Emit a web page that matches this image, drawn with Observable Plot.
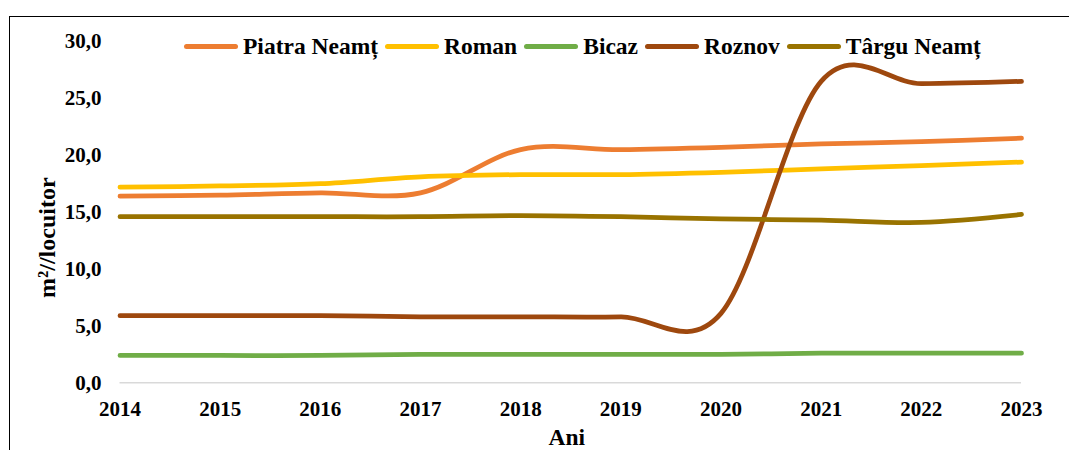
<!DOCTYPE html>
<html>
<head>
<meta charset="utf-8">
<script src="https://cdn.jsdelivr.net/npm/d3@7"></script>
<script src="https://cdn.jsdelivr.net/npm/@observablehq/plot@0.6"></script>
<style>
  html, body { margin: 0; padding: 0; background: #fff; }
  #wrap { position: relative; width: 1069px; height: 450px; overflow: hidden; font-family: "Liberation Serif", "Times New Roman", serif; }
  #border { position: absolute; left: 9px; top: 16px; right: -5px; bottom: -5px; border-left: 1px solid #000; border-top: 1.5px solid #000; }
  #chart { position: absolute; left: 0; top: 0; }
  #legend { position: absolute; left: 184px; top: 33px; display: flex; align-items: center; font-weight: bold; font-size: 23.5px; line-height: 26px; color: #000; white-space: nowrap; }
  .sw { width: 54px; height: 5px; border-radius: 3px; margin-right: 5px; }
  .lb { margin-right: 7px; }
</style>
</head>
<body>
<div id="wrap">
  <div id="border"></div>
  <div id="chart"></div>
  <div id="legend"></div>
</div>
<script>
const years = [2014, 2015, 2016, 2017, 2018, 2019, 2020, 2021, 2022, 2023];
const cities = ["Piatra Neamț", "Roman", "Bicaz", "Roznov", "Târgu Neamț"];
const colors = ["#ED7D31", "#FFC000", "#70AD47", "#9E480E", "#997300"];
const piatraNeamt = [16.4, 16.5, 16.7, 16.7, 20.5, 20.5, 20.7, 21.0, 21.2, 21.5];
const roman       = [17.2, 17.3, 17.5, 18.1, 18.3, 18.3, 18.5, 18.8, 19.1, 19.4];
const bicaz       = [2.4, 2.4, 2.4, 2.5, 2.5, 2.5, 2.5, 2.6, 2.6, 2.6];
const roznov      = [5.9, 5.9, 5.9, 5.8, 5.8, 5.8, 6.1, 26.5, 26.3, 26.5];
const targuNeamt  = [14.6, 14.6, 14.6, 14.6, 14.7, 14.6, 14.4, 14.3, 14.1, 14.8];
const yTicks = [0, 5, 10, 15, 20, 25, 30];
const xTitle = "Ani";
const yTitle = "m²//locuitor";

const seriesValues = [piatraNeamt, roman, bicaz, roznov, targuNeamt];
const rows = [];
cities.forEach((c, i) => years.forEach((y, j) => rows.push({city: c, year: y, value: seriesValues[i][j]})));

const chart = Plot.plot({
  width: 1069,
  height: 450,
  marginLeft: 119.5,
  marginRight: 48,
  marginTop: 41,
  marginBottom: 67.7,
  style: {fontFamily: "'Liberation Serif', 'Times New Roman', serif", fontWeight: "bold", fontSize: "21px", color: "#000", background: "transparent", overflow: "visible"},
  x: {domain: [2014, 2023]},
  y: {domain: [0, 30]},
  color: {domain: cities, range: colors},
  marks: [
    Plot.ruleY([0], {stroke: "#d9d9d9", strokeWidth: 1.5}),
    Plot.axisX({ticks: years, tickFormat: d => String(d), tickSize: 0, tickPadding: 17.8, label: null}),
    Plot.axisY({ticks: yTicks, tickFormat: d => d.toFixed(1).replace(".", ","), tickSize: 0, tickPadding: 18.5, label: null}),
    Plot.lineY(rows, {x: "year", y: "value", z: "city", stroke: "city", strokeWidth: 4.75, strokeLinecap: "round", strokeLinejoin: "round", curve: d3.curveCatmullRom.alpha(0)}),
    Plot.text([xTitle], {frameAnchor: "bottom", dx: -4, dy: 54.5, text: d => d, fontSize: 23.5, fontWeight: "bold", textAnchor: "middle", lineAnchor: "middle"}),
    Plot.text([yTitle], {frameAnchor: "left", dx: -72.5, dy: 25.5, rotate: -90, text: d => d, fontSize: 24, fontWeight: "bold", textAnchor: "middle", lineAnchor: "middle"})
  ]
});
document.getElementById("chart").appendChild(chart);

const legend = document.getElementById("legend");
cities.forEach((c, i) => {
  const sw = document.createElement("div");
  sw.className = "sw";
  sw.style.background = colors[i];
  const lb = document.createElement("span");
  lb.className = "lb";
  lb.textContent = c;
  legend.appendChild(sw);
  legend.appendChild(lb);
});
</script>
</body>
</html>
